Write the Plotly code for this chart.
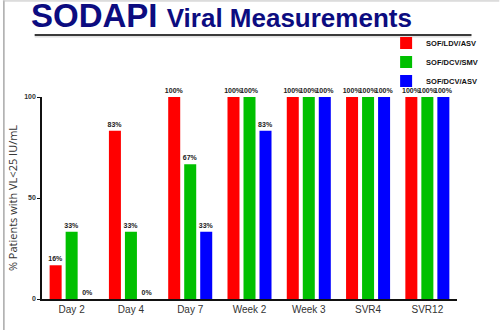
import plotly.graph_objects as go

categories = ["Day 2", "Day 4", "Day 7", "Week 2", "Week 3", "SVR4", "SVR12"]
series_names = ["SOF/LDV/ASV", "SOF/DCV/SMV", "SOF/DCV/ASV"]
red_vals = [16.7, 83.3, 100, 100, 100, 100, 100]
green_vals = [33.3, 33.3, 66.7, 100, 100, 100, 100]
blue_vals = [0, 0, 33.3, 83.3, 100, 100, 100]
red_text = ["16%", "83%", "100%", "100%", "100%", "100%", "100%"]
green_text = ["33%", "33%", "67%", "100%", "100%", "100%", "100%"]
blue_text = ["0%", "0%", "33%", "83%", "100%", "100%", "100%"]
colors = ["#ff0000", "#00c000", "#0000ff"]
y_ticks = [0, 50, 100]

W, H = 500, 330
L, R, T, B = 39.4, 457.4, 96.7, 299.0
pw, ph = R - L, B - T

def px_x(x):
    return (x - L) / pw

def px_y(y):
    return (B - y) / ph

fig = go.Figure()
for name, vals, txt, col in zip(series_names, [red_vals, green_vals, blue_vals],
                                [red_text, green_text, blue_text], colors):
    fig.add_trace(go.Bar(
        x=categories, y=vals, name=f"<b>{name}</b>",
        marker=dict(color=col, line=dict(width=0)),
        text=txt, textposition="outside", constraintext="none", cliponaxis=False,
        textfont=dict(family="Arial", size=7, color="#222"),
        texttemplate="<b>%{text}</b>",
    ))

fig.update_layout(
    width=W, height=H,
    margin=dict(l=L, r=W - R, t=T, b=H - B, pad=0),
    paper_bgcolor="white", plot_bgcolor="white",
    barmode="group", bargap=0.19, bargroupgap=0.25,
    showlegend=True,
    legend=dict(x=px_x(386), y=px_y(28), xanchor="left", yanchor="top",
                font=dict(family="Arial", size=7.5, color="#111"),
                bgcolor="rgba(0,0,0,0)", itemwidth=30, tracegroupgap=0),
    title=dict(
        text="<b>SODAPI</b> <span style='font-size:26px'><b>Viral Measurements</b></span>",
        x=31 / W, xanchor="left", xref="container",
        y=1 - 4 / H, yanchor="top", yref="container",
        font=dict(family="Arial", size=33, color="#0c0c80"),
        pad=dict(t=0, l=0, b=0, r=0),
    ),
    xaxis=dict(
        range=[-0.5, 6.5], showline=True, linecolor="#111", linewidth=1.5,
        ticks="", showgrid=False, zeroline=False,
        tickfont=dict(family="Arial", size=10, color="#333"),
    ),
    yaxis=dict(
        range=[0, 100], tickvals=y_ticks, ticktext=[f"<b>{v}</b>" for v in y_ticks],
        showline=True, linecolor="#111", linewidth=1.5, ticks="outside", ticklen=3,
        tickcolor="#111", showgrid=False, zeroline=False,
        tickfont=dict(family="Arial", size=7, color="#333"),
        title=dict(text="% Patients with VL<25 IU/mL", standoff=4,
                   font=dict(family="Open Sans", size=11, color="#333")),
    ),
    shapes=[
        dict(type="line", xref="paper", yref="paper", x0=px_x(32), x1=px_x(472),
             y0=px_y(34.5), y1=px_y(34.5), line=dict(color="#3a3a3a", width=2)),
        dict(type="line", xref="paper", yref="paper", x0=px_x(32), x1=px_x(472),
             y0=px_y(36.5), y1=px_y(36.5), line=dict(color="#cfcfcf", width=1)),
        dict(type="line", xref="paper", yref="paper", x0=px_x(1), x1=px_x(1),
             y0=px_y(0), y1=px_y(H), line=dict(color="#a8a8a8", width=1.5)),
        dict(type="line", xref="paper", yref="paper", x0=px_x(0), x1=px_x(W),
             y0=px_y(0.5), y1=px_y(0.5), line=dict(color="#c0c0c0", width=1)),
    ],
)

fig.write_html("out.html")
